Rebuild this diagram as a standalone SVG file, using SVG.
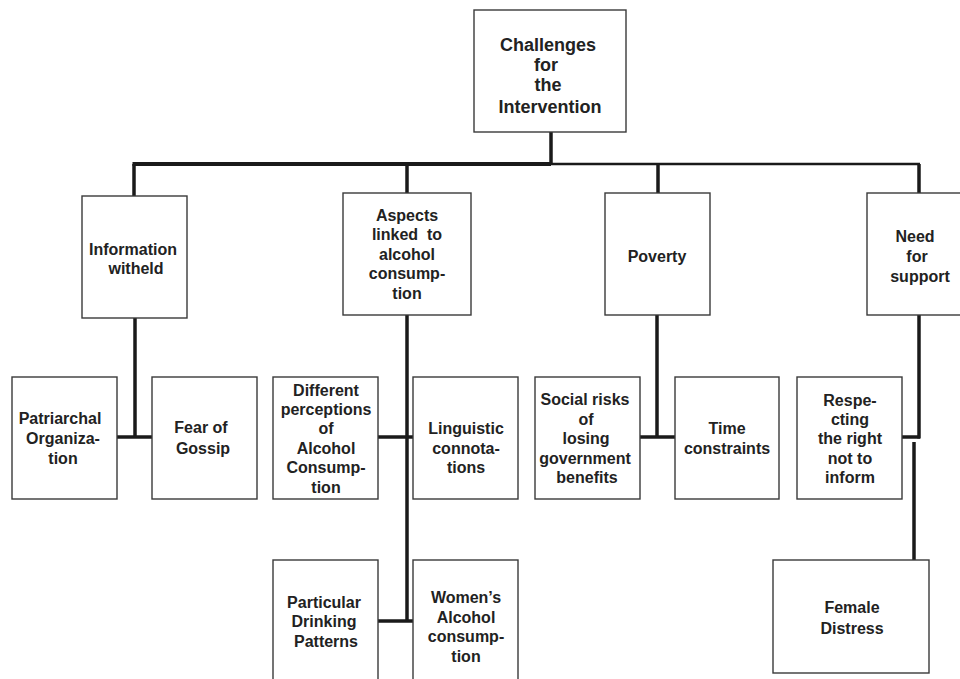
<svg xmlns="http://www.w3.org/2000/svg" width="960" height="679" viewBox="0 0 960 679">
<style>
.box{fill:#fff;stroke:#3a3a3a;stroke-width:1.4}
.t{font-family:"Liberation Sans",Arial,sans-serif;font-weight:bold;font-size:16px;fill:#222;text-anchor:middle}
.root{font-size:18px}
.c{stroke:#1a1a1a;stroke-width:3.5;fill:none}
.thin{stroke-width:2.5}
</style>
<rect width="960" height="679" fill="#fff"/>
<g id="connectors">
<line class="c" x1="551" y1="132" x2="551" y2="164"/>
<line class="c" x1="132.5" y1="164" x2="551" y2="164" style="stroke-width:4"/>
<line class="c thin" x1="551" y1="164" x2="920" y2="164"/>
<line class="c" x1="134" y1="164" x2="134" y2="196"/>
<line class="c" x1="407" y1="164" x2="407" y2="193"/>
<line class="c" x1="658" y1="164" x2="658" y2="193"/>
<line class="c" x1="919" y1="164" x2="919" y2="193"/>
<line class="c" x1="135" y1="318" x2="135" y2="437"/>
<line class="c" x1="117" y1="437" x2="152" y2="437"/>
<line class="c" x1="407" y1="315" x2="407" y2="622"/>
<line class="c" x1="378" y1="437" x2="413" y2="437"/>
<line class="c" x1="378" y1="621" x2="413" y2="621"/>
<line class="c" x1="657" y1="315" x2="657" y2="437"/>
<line class="c" x1="640" y1="437" x2="675" y2="437"/>
<line class="c" x1="919" y1="315" x2="919" y2="438.5"/>
<line class="c" x1="902" y1="437" x2="920" y2="437"/>
<line class="c" x1="914" y1="442" x2="914" y2="560"/>
</g>
<g id="root">
<rect class="box" x="474" y="10" width="152" height="122"/>
<text class="t root" x="548" y="51">Challenges</text>
<text class="t root" x="546" y="71">for</text>
<text class="t root" x="548" y="91">the</text>
<text class="t root" x="550" y="113">Intervention</text>
</g>
<g id="information">
<rect class="box" x="82" y="196" width="105" height="122"/>
<text class="t" x="133" y="255">Information</text>
<text class="t" x="136" y="274">witheld</text>
</g>
<g id="aspects">
<rect class="box" x="343" y="193" width="128" height="122"/>
<text class="t" x="407" y="221">Aspects</text>
<text class="t" x="407" y="240" xml:space="preserve">linked  to</text>
<text class="t" x="407" y="260">alcohol</text>
<text class="t" x="407" y="279">consump-</text>
<text class="t" x="407" y="299">tion</text>
</g>
<g id="poverty">
<rect class="box" x="605" y="193" width="105" height="122"/>
<text class="t" x="657" y="262">Poverty</text>
</g>
<g id="need">
<rect class="box" x="867" y="193" width="105" height="122"/>
<text class="t" x="915" y="242">Need</text>
<text class="t" x="917" y="262">for</text>
<text class="t" x="920" y="282">support</text>
</g>
<g id="patriarchal">
<rect class="box" x="12" y="377" width="105" height="122"/>
<text class="t" x="60" y="424">Patriarchal</text>
<text class="t" x="63" y="444">Organiza-</text>
<text class="t" x="63" y="464">tion</text>
</g>
<g id="gossip">
<rect class="box" x="152" y="377" width="105" height="122"/>
<text class="t" x="201" y="433">Fear of</text>
<text class="t" x="203" y="454">Gossip</text>
</g>
<g id="perceptions">
<rect class="box" x="273" y="377" width="105" height="122"/>
<text class="t" x="326" y="396">Different</text>
<text class="t" x="326" y="415">perceptions</text>
<text class="t" x="326" y="434">of</text>
<text class="t" x="326" y="454">Alcohol</text>
<text class="t" x="326" y="473">Consump-</text>
<text class="t" x="326" y="493">tion</text>
</g>
<g id="linguistic">
<rect class="box" x="413" y="377" width="105" height="122"/>
<text class="t" x="466" y="434">Linguistic</text>
<text class="t" x="466" y="454">connota-</text>
<text class="t" x="466" y="473">tions</text>
</g>
<g id="social">
<rect class="box" x="535" y="377" width="105" height="122"/>
<text class="t" x="585" y="405">Social risks</text>
<text class="t" x="586" y="425">of</text>
<text class="t" x="586" y="444">losing</text>
<text class="t" x="585" y="464">government</text>
<text class="t" x="587" y="483">benefits</text>
</g>
<g id="time">
<rect class="box" x="675" y="377" width="104" height="122"/>
<text class="t" x="727" y="434">Time</text>
<text class="t" x="727" y="454">constraints</text>
</g>
<g id="respecting">
<rect class="box" x="797" y="377" width="105" height="122"/>
<text class="t" x="850" y="406">Respe-</text>
<text class="t" x="850" y="425">cting</text>
<text class="t" x="850" y="444">the right</text>
<text class="t" x="850" y="464">not to</text>
<text class="t" x="850" y="483">inform</text>
</g>
<g id="particular">
<rect class="box" x="273" y="560" width="105" height="122"/>
<text class="t" x="324" y="608">Particular</text>
<text class="t" x="324" y="627">Drinking</text>
<text class="t" x="326" y="647">Patterns</text>
</g>
<g id="womens">
<rect class="box" x="413" y="560" width="105" height="122"/>
<text class="t" x="466" y="603">Women’s</text>
<text class="t" x="466" y="623">Alcohol</text>
<text class="t" x="466" y="642">consump-</text>
<text class="t" x="466" y="662">tion</text>
</g>
<g id="female">
<rect class="box" x="773" y="560" width="156" height="113"/>
<text class="t" x="852" y="613">Female</text>
<text class="t" x="852" y="634">Distress</text>
</g>
</svg>
